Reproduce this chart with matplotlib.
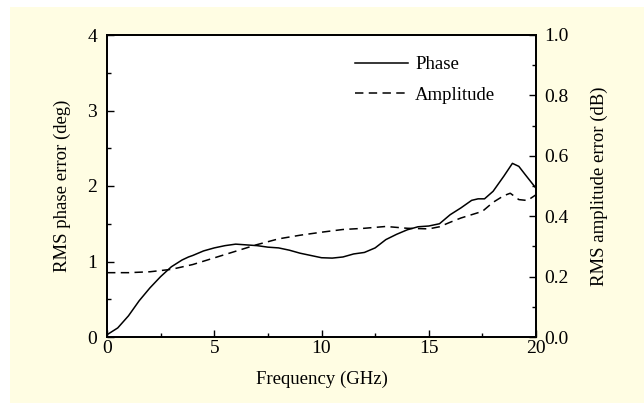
import matplotlib
matplotlib.use("Agg")
import matplotlib.pyplot as plt
from matplotlib.patches import Rectangle
from matplotlib.ticker import MultipleLocator

plt.rcParams['font.family'] = ['Liberation Serif', 'DejaVu Serif']
plt.rcParams['font.size'] = 13

# Frequency (GHz) and RMS phase error (deg)
freq_phase = [0, 0.5, 1, 1.5, 2, 2.5, 3, 3.5, 3.8, 4, 4.5, 5, 5.5, 6, 6.5, 7, 7.5, 8,
              8.5, 9, 9.5, 10, 10.5, 11, 11.5, 12, 12.5, 13, 13.5, 14, 14.5, 15,
              15.5, 16, 16.5, 17, 17.3, 17.6, 18, 18.5, 18.9, 19.2, 19.5, 20]
phase = [0.03, 0.12, 0.28, 0.48, 0.65, 0.80, 0.93, 1.02, 1.06, 1.08, 1.14, 1.18, 1.21,
         1.23, 1.22, 1.21, 1.19, 1.18, 1.15, 1.11, 1.08, 1.05, 1.045, 1.06, 1.10, 1.12,
         1.18, 1.29, 1.36, 1.42, 1.46, 1.47, 1.50, 1.62, 1.71, 1.81, 1.83, 1.83, 1.93,
         2.13, 2.30, 2.26, 2.15, 1.97]

# Frequency (GHz) and RMS amplitude error (dB)
freq_amp = [0, 1, 2, 3, 4, 5, 6, 7, 8, 9, 10, 11, 12, 13, 14, 15, 15.5, 16, 16.5,
            17, 17.5, 18, 18.5, 18.8, 19.2, 19.6, 20]
amplitude = [0.213, 0.213, 0.216, 0.224, 0.240, 0.262, 0.284, 0.306, 0.325, 0.337,
             0.347, 0.356, 0.360, 0.366, 0.360, 0.358, 0.365, 0.380, 0.394, 0.405,
             0.416, 0.446, 0.468, 0.476, 0.455, 0.452, 0.471]

fig = plt.figure(figsize=(6.44, 4.03), dpi=100, facecolor='white')
fig.patches.append(Rectangle((10 / 644, 0), 1, 1 - 7 / 403, transform=fig.transFigure,
                             facecolor='#fffde3', edgecolor='none', zorder=-1))

ax = fig.add_axes([107 / 644, 1 - 337 / 403, 429 / 644, 302 / 403])
ax2 = ax.twinx()

l1, = ax.plot(freq_phase, phase, color='black', lw=1.1, label='Phase')
l2, = ax2.plot(freq_amp, amplitude, color='black', lw=1.1, ls=(0, (5.5, 3.5)), label='Amplitude')

ax.set_xlim(0, 20)
ax.set_ylim(0, 4)
ax2.set_ylim(0, 1.0)
ax.xaxis.set_major_locator(MultipleLocator(5))
ax.xaxis.set_minor_locator(MultipleLocator(2.5))
ax.yaxis.set_major_locator(MultipleLocator(1))
ax.yaxis.set_minor_locator(MultipleLocator(0.5))
ax2.yaxis.set_major_locator(MultipleLocator(0.2))
ax2.yaxis.set_minor_locator(MultipleLocator(0.1))
ax2.yaxis.set_major_formatter(plt.FormatStrFormatter('%.1f'))

ax.tick_params(axis='both', which='major', direction='in', length=5, width=1, labelsize=14)
ax.tick_params(axis='x', which='major', pad=2)
ax.tick_params(axis='y', which='major', pad=7)
ax.tick_params(axis='both', which='minor', direction='in', length=3, width=1)
ax.tick_params(top=False, right=False, which='both')
ax2.tick_params(which='major', direction='in', length=5, width=1, labelsize=14, pad=6)
ax2.tick_params(which='minor', direction='in', length=3, width=1)

for a in (ax, ax2):
    for s in a.spines.values():
        s.set_linewidth(1.3)

ax.set_xlabel('Frequency (GHz)', fontsize=13.5, labelpad=10)
ax.set_ylabel('RMS phase error (deg)', fontsize=13.5, labelpad=12)
ax2.set_ylabel('RMS amplitude error (dB)', fontsize=13.5, labelpad=16)

ax2.legend([l1, l2], ['Phase', 'Amplitude'], frameon=False, loc='upper left',
           bbox_to_anchor=(0.539, 0.986), handlelength=2.8, handletextpad=0.4,
           labelspacing=0.72, fontsize=13.5)

fig.savefig('out.png', dpi=100, facecolor=fig.get_facecolor())
